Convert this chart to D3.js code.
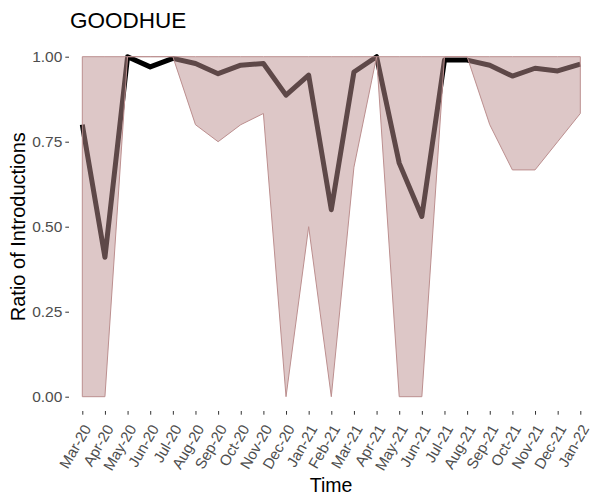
<!DOCTYPE html>
<html>
<head>
<meta charset="utf-8">
<script src="https://cdn.jsdelivr.net/npm/d3@7"></script>
<style>
  body { margin: 0; background: #fff; }
  svg { display: block; font-family: "Liberation Sans", Arial, sans-serif; }
</style>
</head>
<body>
<div id="chart"></div>
<script>
const months = ["Mar-20", "Apr-20", "May-20", "Jun-20", "Jul-20", "Aug-20", "Sep-20", "Oct-20", "Nov-20", "Dec-20", "Jan-21", "Feb-21", "Mar-21", "Apr-21", "May-21", "Jun-21", "Jul-21", "Aug-21", "Sep-21", "Oct-21", "Nov-21", "Dec-21", "Jan-22"];
const ratio = [0.80, 0.41, 1.00, 0.97, 0.995, 0.98, 0.95, 0.975, 0.98, 0.887, 0.946, 0.55, 0.955, 1.00, 0.687, 0.53, 0.99, 0.99, 0.975, 0.943, 0.966, 0.958, 0.978];
const lower = [0, 0, 1, 1, 1, 0.80, 0.75, 0.80, 0.833, 0, 0.50, 0, 0.675, 1, 0, 0, 1, 1, 0.80, 0.667, 0.667, 0.75, 0.833];
const upper = [1, 1, 1, 1, 1, 1, 1, 1, 1, 1, 1, 1, 1, 1, 1, 1, 1, 1, 1, 1, 1, 1, 1];
const yTicks = [0, 0.25, 0.5, 0.75, 1];

const width = 592, height = 498;

const svg = d3.select("#chart").append("svg").attr("width", width).attr("height", height);

const x = d3.scalePoint().domain(months).range([82.3, 580.3]);
const y = d3.scaleLinear().domain([0, 1]).range([396.7, 56.7]);

const rows = months.map(function (m, i) {
  return { month: m, ratio: ratio[i], lo: lower[i], hi: upper[i] };
});

// mean line (drawn first, ribbon sits on top)
const line = d3.line()
  .x(function (d) { return x(d.month); })
  .y(function (d) { return y(d.ratio); });

svg.append("path")
  .datum(rows)
  .attr("d", line)
  .attr("fill", "none")
  .attr("stroke", "#000")
  .attr("stroke-width", 5)
  .attr("stroke-linejoin", "round");

const area = d3.area()
  .x(function (d) { return x(d.month); })
  .y0(function (d) { return y(d.lo); })
  .y1(function (d) { return y(d.hi); });

svg.append("path")
  .datum(rows)
  .attr("d", area)
  .attr("fill", "rosybrown")
  .attr("fill-opacity", 0.5)
  .attr("stroke", "rosybrown")
  .attr("stroke-width", 1);

// y axis
const yAxis = svg.append("g")
  .attr("transform", "translate(69,0)")
  .call(d3.axisLeft(y).tickValues(yTicks).tickFormat(d3.format(".2f")).tickSize(3.7).tickPadding(3));
yAxis.select(".domain").remove();
yAxis.selectAll("line").attr("stroke", "#333");
yAxis.selectAll("text").attr("font-size", 15.5).attr("fill", "#4d4d4d");

// x axis
const xAxis = svg.append("g")
  .attr("transform", "translate(0,411)")
  .call(d3.axisBottom(x).tickSize(3.7).tickPadding(0));
xAxis.select(".domain").remove();
xAxis.selectAll("line").attr("stroke", "#333");
xAxis.selectAll("text")
  .attr("font-size", 15)
  .attr("fill", "#4d4d4d")
  .attr("text-anchor", "end")
  .attr("dy", "0.35em")
  .attr("transform", "translate(1,13) rotate(-60)");

// titles
svg.append("text")
  .attr("x", 70).attr("y", 28)
  .attr("font-size", 22.5)
  .attr("fill", "#000")
  .text("GOODHUE");

svg.append("text")
  .attr("transform", "translate(25,226.7) rotate(-90)")
  .attr("text-anchor", "middle")
  .attr("font-size", 20)
  .attr("fill", "#000")
  .text("Ratio of Introductions");

svg.append("text")
  .attr("x", 331).attr("y", 492)
  .attr("text-anchor", "middle")
  .attr("font-size", 19.5)
  .attr("fill", "#000")
  .text("Time");
</script>
</body>
</html>
